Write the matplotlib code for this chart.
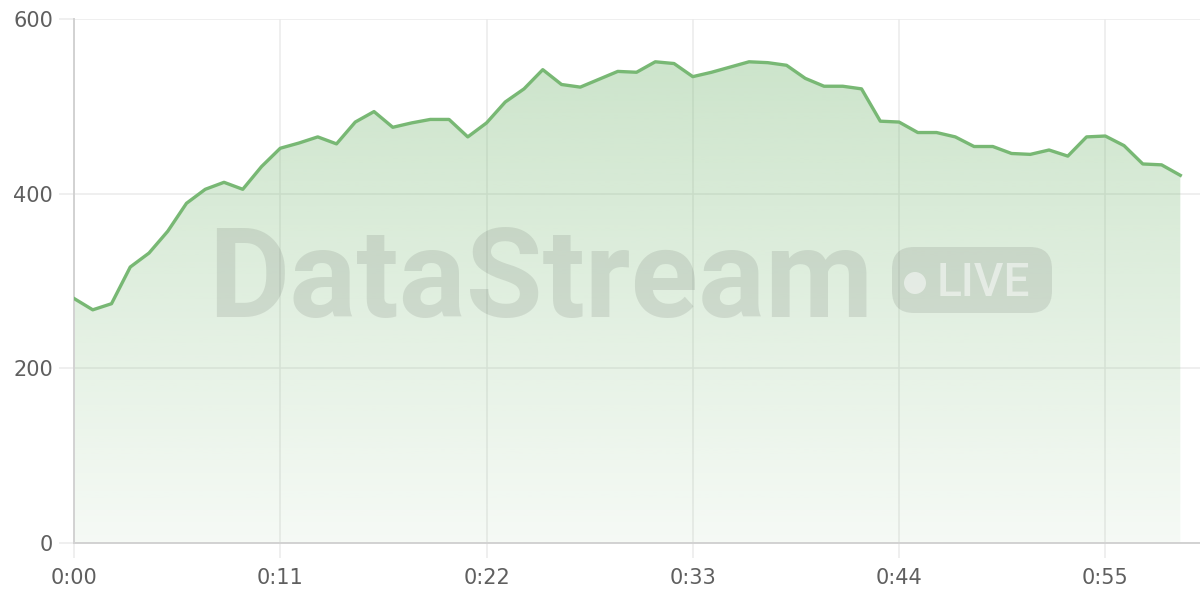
import numpy as np
import matplotlib.pyplot as plt
from matplotlib.patches import FancyBboxPatch, Circle

# datos (un punto por minuto)
minutos = list(range(60))
valores = [280, 267, 274, 316, 332, 357, 389, 405, 413, 405,
           431, 452, 458, 465, 457, 482, 494, 476, 481, 485,
           485, 465, 481, 505, 520, 542, 525, 522, 531, 540,
           539, 551, 549, 534, 539, 545, 551, 550, 547, 532,
           523, 523, 520, 483, 482, 470, 470, 465, 454, 454,
           446, 445, 450, 443, 465, 466, 455, 434, 433, 421]

xticks = [0, 11, 22, 33, 44, 55]
xtick_labels = ["0:00", "0:11", "0:22", "0:33", "0:44", "0:55"]
yticks = [0, 200, 400, 600]

verde = "#78b874"
gris_txt = "#5f5f5f"
gris_grid = "#ebebeb"
gris_eje = "#d2d2d2"

fig = plt.figure(figsize=(12, 6), dpi=100)
ax = fig.add_axes([74 / 1200, 57 / 600, 1126 / 1200, 524 / 600])

x = np.array(minutos)
y = np.array(valores)

# relleno con degradado
poly = ax.fill_between(x, y, 0, facecolor="none", edgecolor="none")
grad = np.zeros((256, 1, 4))
grad[:, 0, :3] = np.array([120, 184, 116]) / 255
grad[:, 0, 3] = np.linspace(0.07, 0.40, 256)
im = ax.imshow(grad, extent=[0, 59, 0, 600], origin="lower",
               aspect="auto", zorder=1, interpolation="bilinear")
im.set_clip_path(poly.get_paths()[0], transform=ax.transData)

ax.plot(x, y, color=verde, linewidth=2.4, solid_joinstyle="round", zorder=3)

ax.set_xlim(0, 60.05)
ax.set_ylim(0, 600)
ax.set_xticks(xticks)
ax.set_xticklabels(xtick_labels)
ax.set_yticks(yticks)

ax.grid(True, color=gris_grid, linewidth=1.1, zorder=0)
ax.set_axisbelow(True)
for s in ["top", "right"]:
    ax.spines[s].set_visible(False)
for s in ["left", "bottom"]:
    ax.spines[s].set_color(gris_eje)
    ax.spines[s].set_linewidth(1.4)

ax.tick_params(axis="both", length=11, width=1.1, color=gris_grid,
               labelcolor=gris_txt, labelsize=15)
ax.tick_params(axis="x", pad=7)
ax.tick_params(axis="y", pad=4)

# marca de agua
over = fig.add_axes([0, 0, 1, 1], zorder=5)
over.set_xlim(0, 1200)
over.set_ylim(600, 0)
over.axis("off")
over.patch.set_alpha(0)

over.text(208, 317, "DataStream", fontsize=90, fontweight="bold",
          family="Roboto", color="black", alpha=0.09, va="baseline", ha="left")
badge = FancyBboxPatch((892 + 22, 247 + 22), 160 - 44, 66 - 44,
                       boxstyle="round,pad=22", facecolor="black",
                       edgecolor="none", alpha=0.09)
over.add_patch(badge)
over.add_patch(Circle((915, 283), 11, facecolor="white", edgecolor="none", alpha=0.5))
over.text(937, 296, "LIVE", fontsize=33, fontweight="medium", family="Roboto",
          color="white", alpha=0.5, va="baseline", ha="left")

fig.savefig("out.png", dpi=100)
